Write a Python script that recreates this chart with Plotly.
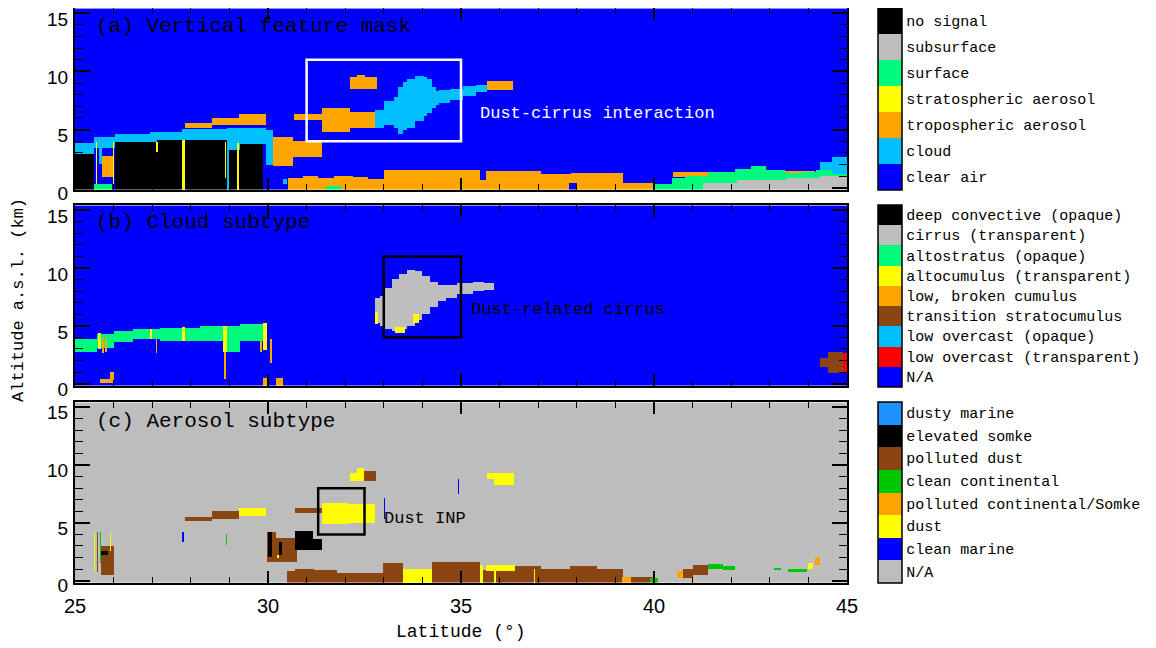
import numpy as np
import plotly.graph_objects as go

# ---------------- legend classes (top -> bottom) ----------------
A_NAMES = ["no signal", "subsurface", "surface", "stratospheric aerosol",
           "tropospheric aerosol", "cloud", "clear air"]
A_COLORS = ["#000000", "#BEBEBE", "#00FA7D", "#FFFF00", "#FFA500", "#00BFFF", "#0000FF"]

B_NAMES = ["deep convective (opaque)", "cirrus (transparent)", "altostratus (opaque)",
           "altocumulus (transparent)", "low, broken cumulus", "transition stratocumulus",
           "low overcast (opaque)", "low overcast (transparent)", "N/A"]
B_COLORS = ["#000000", "#BEBEBE", "#00FA7D", "#FFFF00", "#FFA500", "#8B4513",
            "#00BFFF", "#FF0000", "#0000FF"]

C_NAMES = ["dusty marine", "elevated somke", "polluted dust", "clean continental",
           "polluted continental/Somke", "dust", "clean marine", "N/A"]
C_COLORS = ["#1E90FF", "#000000", "#8B4513", "#00C800", "#FFA500", "#FFFF00",
            "#0000FF", "#BDBDBD"]

# ---------------- features: (lat0, lat1, alt0, alt1) ----------------
# (a) vertical feature mask
A_TROPO = [
    (27.83, 28.54, 5.13, 5.47), (28.54, 29.23, 5.45, 6.0), (29.23, 29.94, 5.45, 6.3),
    (30.68, 31.39, 5.8, 6.3), (31.39, 32.12, 4.85, 6.81), (32.12, 32.77, 5.08, 6.53),
    (32.11, 32.82, 8.5, 9.54), (32.3, 32.5, 9.5, 9.7), (35.67, 36.36, 8.36, 9.2),
    (30.14, 30.66, 1.76, 4.29), (30.66, 31.39, 2.6, 4.0), (25.70, 25.97, 0.9, 2.75),
    (30.52, 30.9, -0.2, 0.8), (30.9, 31.3, -0.2, 1.0), (31.3, 31.7, -0.2, 0.85),
    (31.7, 32.2, -0.2, 1.05), (32.2, 32.6, -0.2, 0.9), (32.6, 33.0, -0.2, 0.75),
    (33.0, 34.24, -0.2, 1.5), (34.24, 35.49, -0.2, 1.55), (35.49, 35.66, -0.2, 0.6),
    (35.66, 37.05, -0.2, 1.4), (37.05, 37.83, -0.2, 1.07), (37.83, 39.2, -0.2, 1.2),
    (39.2, 40.0, -0.2, 0.45), (40.5, 41.4, 0.9, 1.3), (43.4, 44.15, 1.2, 1.45),
]
A_CLEAR = [(37.8, 38.0, -0.2, 0.4)]
A_SURFACE = [
    (25.50, 25.95, -0.2, 0.35), (31.5, 31.9, -0.2, 0.15), (40.0, 40.45, -0.2, 0.3),
    (40.45, 40.8, -0.2, 0.8), (40.8, 41.4, -0.2, 1.0), (41.4, 42.1, -0.2, 1.3),
    (42.1, 42.5, -0.2, 1.6), (42.5, 42.9, -0.2, 1.85), (42.9, 43.4, -0.2, 1.5),
    (43.4, 43.85, -0.2, 1.2), (43.85, 44.2, -0.2, 1.3), (44.2, 44.6, -0.2, 1.5),
    (44.6, 45.0, -0.2, 1.1),
]
A_SUBSURFACE = [(41.28, 42.14, -0.2, 0.4), (42.14, 43.44, -0.2, 0.64),
                (43.44, 44.3, -0.2, 0.78), (44.3, 45.0, -0.2, 1.0)]
A_NO_SIGNAL = [
    (25.00, 25.47, -0.2, 2.9), (26.04, 27.12, -0.2, 3.87), (27.12, 27.76, -0.2, 4.07),
    (27.85, 28.93, -0.2, 4.07), (28.93, 29.27, -0.2, 3.2), (29.27, 29.88, -0.2, 3.75),
]
A_CLOUD = [
    (25.00, 25.47, 2.9, 3.8), (25.47, 26.04, 3.45, 4.3), (26.04, 26.94, 3.87, 4.57),
    (26.94, 27.12, 3.87, 4.8), (27.12, 27.76, 4.07, 4.8), (27.76, 28.93, 4.07, 5.0),
    (28.93, 29.27, 3.2, 5.13), (29.27, 29.94, 3.75, 5.13), (29.94, 30.14, 1.9, 4.9),
    (25.62, 25.70, 2.0, 3.5), (30.40, 30.50, 0.3, 0.7), (44.30, 44.60, 1.5, 2.2),
    (44.60, 45.00, 1.1, 2.6), (28.93, 28.97, -0.2, 3.2),
    # dust-related cirrus
    (32.77, 32.99, 5.08, 6.67), (32.99, 33.25, 5.4, 7.37), (33.25, 33.38, 5.08, 7.8),
    (33.38, 33.50, 4.62, 8.64), (33.50, 33.60, 4.9, 9.06), (33.60, 33.81, 5.08, 9.3),
    (33.81, 34.03, 5.69, 9.62), (34.03, 34.11, 6.1, 9.5), (34.11, 34.24, 6.39, 9.34),
    (34.24, 34.33, 6.8, 8.64), (34.33, 34.41, 7.1, 8.27), (34.41, 34.71, 7.3, 8.36),
    (34.71, 35.06, 7.52, 8.55), (35.06, 35.4, 7.94, 8.7), (35.4, 35.67, 8.22, 8.8),
]
A_STRAT = [(27.78, 27.83, -0.2, 4.1), (29.2, 29.24, -0.2, 3.8), (27.1, 27.14, 3.0, 3.9),
           (28.88, 28.92, 0.8, 3.9), (25.53, 25.57, 0.3, 3.9), (25.97, 26.02, -0.2, 3.9)]

# (b) cloud subtype
B_ALTOSTRATUS = [
    (25.0, 25.56, 2.72, 3.85), (25.56, 25.99, 3.14, 4.3), (25.99, 26.5, 3.57, 4.55),
    (26.5, 27.2, 3.8, 4.75), (27.2, 28.24, 3.75, 4.85), (28.24, 28.84, 3.71, 5.0),
    (28.84, 29.27, 2.72, 5.05), (29.27, 29.88, 3.71, 5.1),
]
B_CIRRUS = [
    (32.77, 32.9, 5.2, 7.4), (32.9, 33.0, 5.0, 7.6), (33.0, 33.2, 4.7, 8.3),
    (33.2, 33.4, 4.5, 9.0), (33.4, 33.6, 4.7, 9.5), (33.6, 33.8, 5.0, 9.8),
    (33.8, 34.0, 5.5, 9.7), (34.0, 34.2, 6.0, 9.3), (34.2, 34.4, 6.6, 8.8),
    (34.4, 34.6, 7.1, 8.5), (34.6, 34.9, 7.4, 8.5), (34.9, 35.3, 7.7, 8.7),
    (35.3, 35.6, 8.0, 8.8), (35.6, 35.85, 8.1, 8.7),
]
B_ALTOCUMULUS = [
    (29.86, 29.97, 2.9, 5.2), (25.60, 25.67, 3.0, 4.4), (26.94, 27.0, 3.8, 4.7),
    (27.76, 27.85, 3.7, 4.9), (28.84, 28.93, 2.7, 5.0), (32.77, 32.85, 5.1, 6.2),
    (33.3, 33.55, 4.45, 4.9), (33.75, 33.9, 5.2, 6.0),
]
B_CUMULUS = [
    (25.70, 25.74, 2.6, 3.85), (25.78, 25.81, 2.7, 4.0), (27.09, 27.12, 2.6, 3.8),
    (28.86, 28.89, 0.4, 2.75), (29.80, 29.83, 2.7, 3.7), (30.05, 30.1, 1.85, 3.85),
    (25.65, 25.92, 0.05, 0.45), (25.9, 25.99, 0.05, 1.0), (29.88, 29.97, -0.2, 0.5),
    (30.22, 30.4, -0.2, 0.5),
]
B_STRATOCUMULUS = [(44.3, 44.5, 1.4, 2.2), (44.5, 44.9, 0.9, 2.7)]
B_OVERCAST_T = [(44.9, 45.0, 1.0, 2.6)]

# (c) aerosol subtype
C_POLLUTED_DUST = [
    (25.55, 25.60, 0.7, 4.2), (25.68, 25.99, 0.48, 3.03), (27.83, 28.54, 5.1, 5.55),
    (28.54, 29.23, 5.3, 6.0), (30.70, 31.39, 5.8, 6.3), (32.47, 32.80, 8.56, 9.5),
    (29.97, 30.20, 1.6, 4.2), (30.20, 30.75, 1.6, 3.7),
    (30.48, 30.70, -0.2, 0.76), (30.70, 31.2, -0.2, 1.0), (31.2, 31.8, -0.2, 0.9),
    (31.8, 32.98, -0.2, 0.6), (32.98, 33.5, -0.2, 1.47), (34.25, 35.49, -0.2, 1.6),
    (35.49, 36.39, -0.2, 0.9), (36.39, 37.05, -0.2, 1.18), (37.05, 37.82, -0.2, 1.04),
    (37.82, 38.51, -0.2, 1.18), (38.51, 39.2, -0.2, 1.04), (39.2, 39.98, -0.2, 0.33),
    (40.75, 41.0, 0.2, 1.0), (41.0, 41.4, 0.5, 1.3),
]
C_DUST = [
    (25.48, 25.52, 0.8, 4.1), (25.90, 25.93, 2.5, 4.2), (29.25, 29.94, 5.6, 6.35),
    (31.39, 32.08, 4.88, 6.72), (32.08, 32.77, 4.96, 6.6), (32.12, 32.30, 8.56, 9.3),
    (32.30, 32.47, 8.56, 9.7), (35.67, 35.85, 8.85, 9.27), (35.85, 36.37, 8.33, 9.27),
    (33.5, 34.25, -0.2, 0.96), (35.66, 36.39, 0.76, 1.33), (35.5, 35.55, -0.2, 1.3),
    (35.85, 35.9, -0.2, 1.0), (36.88, 36.92, -0.2, 1.0), (30.23, 30.28, 1.95, 2.2),
    (43.99, 44.12, 1.05, 1.47),
]
C_SMOKE = [(25.68, 25.85, 2.2, 2.5), (30.00, 30.10, 2.0, 4.2), (30.28, 30.35, 2.2, 3.3),
           (30.70, 31.15, 2.6, 4.3), (31.15, 31.39, 2.6, 3.6)]
C_CLEAN_CONT = [(25.65, 25.68, 1.5, 4.2), (28.89, 28.93, 3.1, 4.0), (39.9, 40.1, -0.2, 0.2),
                (41.4, 41.8, 1.0, 1.45), (41.8, 42.1, 0.95, 1.25), (43.09, 43.27, 0.9, 1.15),
                (43.47, 43.96, 0.66, 1.05)]
C_POLL_CONT = [(39.15, 39.4, -0.2, 0.3), (40.6, 40.75, 0.2, 0.8), (44.17, 44.3, 1.3, 2.0)]
C_CLEAN_MARINE = [(27.78, 27.82, 3.3, 4.2), (32.99, 33.03, 5.3, 7.1),
                  (34.85, 34.88, 7.1, 9.0), (34.92, 34.95, 7.5, 8.8)]

# ---------------- grid ----------------
LAT = np.arange(25.01, 45.0, 0.02)
ALT = np.arange(-0.15, 15.45, 0.1)
Y_RANGE = [-0.2, 15.45]


def val(names, name):
    return len(names) - 1 - names.index(name)


def build(names, background, layers):
    g = np.full((len(ALT), len(LAT)), val(names, background), dtype=np.int8)
    for rects, name in layers:
        v = val(names, name)
        for lat0, lat1, a0, a1 in rects:
            cm = (LAT >= lat0) & (LAT < lat1)
            rm = (ALT >= a0) & (ALT < a1)
            g[np.ix_(rm, cm)] = v
    return g


ZA = build(A_NAMES, "clear air", [
    (A_TROPO, "tropospheric aerosol"), (A_CLEAR, "clear air"),
    (A_SURFACE, "surface"), (A_SUBSURFACE, "subsurface"),
    (A_NO_SIGNAL, "no signal"), (A_CLOUD, "cloud"), (A_STRAT, "stratospheric aerosol")])
ZB = build(B_NAMES, "N/A", [
    (B_ALTOSTRATUS, "altostratus (opaque)"), (B_CIRRUS, "cirrus (transparent)"),
    (B_ALTOCUMULUS, "altocumulus (transparent)"), (B_CUMULUS, "low, broken cumulus"),
    (B_STRATOCUMULUS, "transition stratocumulus"),
    (B_OVERCAST_T, "low overcast (transparent)")])
ZC = build(C_NAMES, "N/A", [
    (C_POLLUTED_DUST, "polluted dust"), (C_DUST, "dust"), (C_SMOKE, "elevated somke"),
    (C_CLEAN_CONT, "clean continental"), (C_POLL_CONT, "polluted continental/Somke"),
    (C_CLEAN_MARINE, "clean marine")])


def scale(colors):
    n = len(colors)
    s = []
    for v in range(n):
        c = colors[n - 1 - v]
        s += [[v / n, c], [(v + 1) / n, c]]
    return s


# figure geometry (the page adds an 8px body margin)
FIG_W, FIG_H = 1148, 640
ML, MR, MT, MB = 67, 309, 0, 65
PW = FIG_W - ML - MR
PH = FIG_H - MT - MB
CB_X = 1.040
CB_W = 24

LEG_FONT = dict(family="Liberation Mono", size=15, color="black")


def heat(z, names, colors, xa, ya, cy, clen):
    n = len(names)
    return go.Heatmap(
        x=LAT, y=ALT, z=z, xaxis=xa, yaxis=ya, zmin=-0.5, zmax=n - 0.5,
        colorscale=scale(colors), zsmooth=False, hoverinfo="skip", showscale=True,
        colorbar=dict(x=CB_X, xanchor="left", y=cy, yanchor="middle", len=clen,
                      lenmode="fraction", thickness=CB_W, thicknessmode="pixels",
                      outlinewidth=1.5, outlinecolor="black", xpad=0, ypad=0,
                      tickvals=[n - 1 - k for k in range(n)], ticktext=names,
                      ticks="", tickfont=LEG_FONT))


CB_A = (0.8418, 0.3164)
CB_B = (0.4995, 0.3160)
CB_C = (0.1580, 0.3150)

fig = go.Figure()
fig.add_trace(heat(ZA, A_NAMES, A_COLORS, "x", "y", *CB_A))
fig.add_trace(heat(ZB, B_NAMES, B_COLORS, "x2", "y2", *CB_B))
fig.add_trace(heat(ZC, C_NAMES, C_COLORS, "x3", "y3", *CB_C))

TICKFONT = dict(family="Liberation Sans", size=19, color="black")


def xax(anchor, labels):
    return dict(anchor=anchor, domain=[0, 1], range=[25, 45], tick0=25, dtick=5,
                ticks="inside", ticklen=12, tickwidth=1.5, tickcolor="black",
                minor=dict(dtick=1, ticks="inside", ticklen=6, tickwidth=1.2, tickcolor="black"),
                showline=True, linecolor="black", linewidth=2, mirror="ticks",
                showgrid=False, zeroline=False, showticklabels=labels,
                tickfont=dict(family="Liberation Sans", size=20, color="black"),
                ticklabelstandoff=4, automargin=False)


def yax(anchor, dom, shift):
    return dict(anchor=anchor, domain=dom, range=Y_RANGE, tick0=0, dtick=5,
                ticks="inside", ticklen=15, tickwidth=1.5, tickcolor="black",
                minor=dict(dtick=1, ticks="inside", ticklen=8, tickwidth=1.2, tickcolor="black"),
                showline=True, linecolor="black", linewidth=2, mirror="ticks",
                showgrid=False, zeroline=False, tickfont=TICKFONT, ticklabelstandoff=1,
                ticklabelshift=shift, ticklabeloverflow="allow", automargin=False)


TITLE_FONT = dict(family="Liberation Mono", size=21, color="black")
NOTE_FONT = dict(family="Liberation Mono", size=17, color="black")

annotations = [
    dict(x=25.5, y=13.9, xref="x", yref="y", text="(a) Vertical feature mask",
         showarrow=False, xanchor="left", yanchor="middle", font=TITLE_FONT),
    dict(x=25.5, y=13.9, xref="x2", yref="y2", text="(b) Cloud subtype",
         showarrow=False, xanchor="left", yanchor="middle", font=TITLE_FONT),
    dict(x=25.5, y=13.8, xref="x3", yref="y3", text="(c) Aerosol subtype",
         showarrow=False, xanchor="left", yanchor="middle", font=TITLE_FONT),
    dict(x=35.45, y=6.36, xref="x", yref="y", text="Dust-cirrus interaction",
         showarrow=False, xanchor="left", yanchor="middle",
         font=dict(family="Liberation Mono", size=17, color="white")),
    dict(x=35.2, y=6.43, xref="x2", yref="y2", text="Dust-related cirrus",
         showarrow=False, xanchor="left", yanchor="middle", font=NOTE_FONT),
    dict(x=32.95, y=5.41, xref="x3", yref="y3", text="Dust INP",
         showarrow=False, xanchor="left", yanchor="middle", font=NOTE_FONT),
    dict(x=(10 - ML) / PW, y=(PH - 292) / PH, xref="paper", yref="paper",
         text="Altitude a.s.l. (km)", textangle=-90, showarrow=False,
         xanchor="center", yanchor="middle",
         font=dict(family="Liberation Mono", size=17, color="black")),
    dict(x=0.5, y=(PH - 624) / PH, xref="paper", yref="paper",
         text="Latitude (°)", showarrow=False, xanchor="center", yanchor="middle",
         font=dict(family="Liberation Mono", size=18, color="black")),
]

shapes = [
    dict(type="rect", xref="x", yref="y", x0=31, x1=35, y0=4, y1=11,
         line=dict(color="white", width=2.5)),
    dict(type="rect", xref="x2", yref="y2", x0=33, x1=35, y0=4, y1=11,
         line=dict(color="black", width=2.5)),
    dict(type="rect", xref="x3", yref="y3", x0=31.3, x1=32.5, y0=4, y1=8,
         line=dict(color="black", width=2.5)),
]
# thin separators between legend boxes
for (cy, clen), n in ((CB_A, len(A_NAMES)), (CB_B, len(B_NAMES)), (CB_C, len(C_NAMES))):
    y0 = cy - clen / 2
    for k in range(1, n):
        yk = y0 + clen * k / n
        shapes.append(dict(type="line", xref="paper", yref="paper", x0=CB_X,
                           x1=CB_X + CB_W / PW, y0=yk, y1=yk,
                           line=dict(color="#333333", width=1)))

fig.update_layout(
    width=FIG_W, height=FIG_H,
    margin=dict(l=ML, r=MR, t=MT, b=MB, autoexpand=False),
    paper_bgcolor="white", plot_bgcolor="white", showlegend=False,
    xaxis=xax("y", False), xaxis2=xax("y2", False), xaxis3=xax("y3", True),
    yaxis=yax("x", [(PH - 182) / PH, 1.0], 6),
    yaxis2=yax("x2", [(PH - 378) / PH, (PH - 197) / PH], 6),
    yaxis3=yax("x3", [0.0, (PH - 394) / PH], 5),
    annotations=annotations, shapes=shapes,
)

fig.write_html("out.html")
